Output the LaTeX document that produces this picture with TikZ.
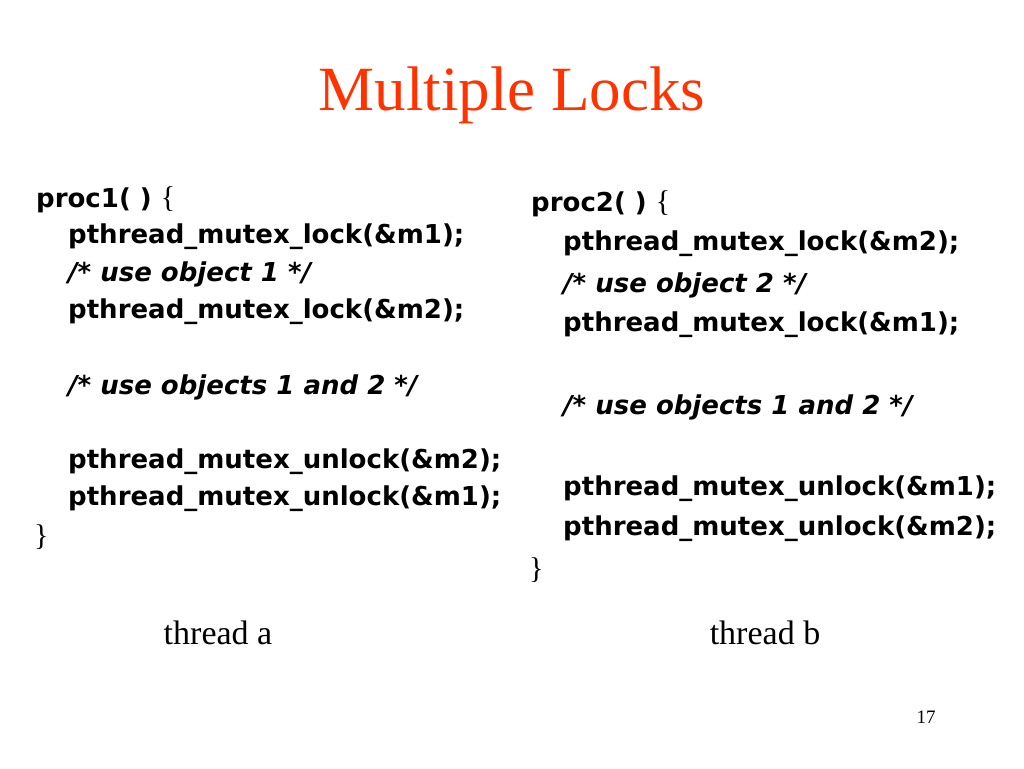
\documentclass[tikz,border=0pt]{standalone}
\usepackage{fontspec}
\setmainfont{Liberation Serif}
\newfontfamily\codefont{DejaVu Sans}
\definecolor{titlered}{RGB}{255,51,0}
\begin{document}
\begin{tikzpicture}[x=1pt,y=-1pt,
  code/.style={anchor=west,inner sep=0pt,font=\codefont\bfseries\fontsize{26}{30}\selectfont},
  cmt/.style={code,font=\codefont\bfseries\itshape\fontsize{26}{30}\selectfont},
  lbl/.style={inner sep=0pt,font=\fontsize{34}{38}\selectfont}]
\useasboundingbox (0,0) rectangle (1024,768);
\node[inner sep=0pt,text=titlered,font=\fontsize{63}{66}\selectfont] (title) at (512,95) {Multiple Locks};
% left
\node[code] (a1) at (36,200) {proc1( ) {\rmfamily\mdseries\fontsize{30}{34}\selectfont\{}};
\node[code] (a2) at (68,237) {pthread\_mutex\_lock(\&m1);};
\node[cmt] (a3) at (68,274) {/* use object 1 */};
\node[code] (a4) at (68,312) {pthread\_mutex\_lock(\&m2);};
\node[cmt] (a5) at (68,387) {/* use objects 1 and 2 */};
\node[code] (a6) at (68,462) {pthread\_mutex\_unlock(\&m2);};
\node[code] (a7) at (68,499) {pthread\_mutex\_unlock(\&m1);};
\node[code,font=\rmfamily\fontsize{30}{34}\selectfont] (a8) at (34,537) {\}};
% right
\node[code] (b1) at (531,204) {proc2( ) {\rmfamily\mdseries\fontsize{30}{34}\selectfont\{}};
\node[code] (b2) at (563,244) {pthread\_mutex\_lock(\&m2);};
\node[cmt] (b3) at (563,285) {/* use object 2 */};
\node[code] (b4) at (563,325) {pthread\_mutex\_lock(\&m1);};
\node[cmt] (b5) at (563,407) {/* use objects 1 and 2 */};
\node[code] (b6) at (563,489) {pthread\_mutex\_unlock(\&m1);};
\node[code] (b7) at (563,529) {pthread\_mutex\_unlock(\&m2);};
\node[code,font=\rmfamily\fontsize{30}{34}\selectfont] (b8) at (529,570) {\}};
\node[lbl] (ta) at (218,633) {thread a};
\node[lbl] (tb) at (765,633) {thread b};
\node[inner sep=0pt,font=\fontsize{19}{21}\selectfont] (pg) at (926,717) {17};
\end{tikzpicture}
\end{document}
